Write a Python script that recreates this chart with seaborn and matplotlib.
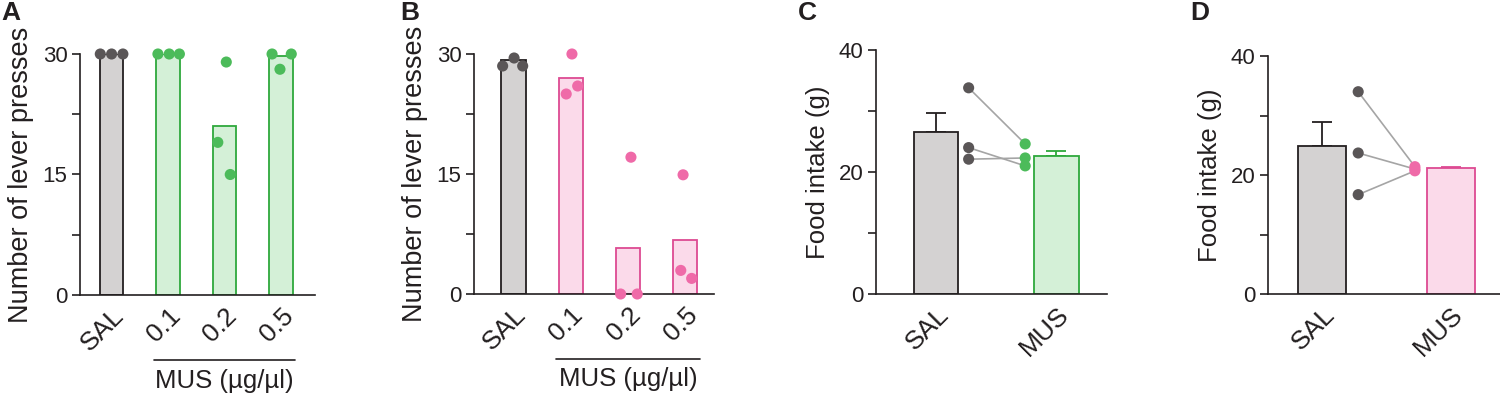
import numpy as np
import pandas as pd
import matplotlib
matplotlib.use("Agg")
import matplotlib.pyplot as plt
import matplotlib.transforms as mtransforms
import seaborn as sns

# lever presses (panels A and B)
press_groups = ["SAL", "0.1", "0.2", "0.5"]
press_a_bars = [30, 30, 21, 29.7]
press_a_points = [[30, 30, 30], [30, 30, 30], [29, 19, 15], [30, 30, 28.1]]
press_b_bars = [29.3, 27.0, 5.7, 6.7]
press_b_points = [[28.5, 29.5, 28.5], [30, 25, 26], [17.1, 0, 0], [14.9, 2.95, 1.95]]

# food intake (panels C and D), paired SAL -> MUS
food_groups = ["SAL", "MUS"]
food_c_bars = [26.6, 22.7]
food_c_err = [3.0, 0.7]
food_c_sal = [33.8, 24.0, 22.1]
food_c_mus = [24.6, 21.0, 22.3]
food_d_bars = [24.9, 21.1]
food_d_err = [4.0, 0.2]
food_d_sal = [34.0, 23.7, 16.7]
food_d_mus = [21.4, 21.0, 20.7]

sns.set_style("ticks")
plt.rcParams["font.family"] = ["Liberation Sans", "DejaVu Sans"]

dark = "#231f20"
plt.rcParams["text.color"] = dark
plt.rcParams["xtick.color"] = dark
plt.rcParams["ytick.color"] = dark
plt.rcParams["axes.labelcolor"] = dark

gray_fill = "#d4d2d2"
gray_dot = "#5a5657"
green = {"fill": "#d4f0d7", "edge": "#2ea83c", "dot": "#4cbb5a"}
pink = {"fill": "#fbdaea", "edge": "#dd4a92", "dot": "#ef6aa8"}

fig = plt.figure(figsize=(15, 3.93), dpi=100)
axA = fig.add_axes([0.0533, 0.2494, 0.1567, 0.6132])
axB = fig.add_axes([0.316, 0.2519, 0.160, 0.6107])
axC = fig.add_axes([0.584, 0.2519, 0.154, 0.6209])
axD = fig.add_axes([0.8453, 0.2519, 0.1547, 0.6056])


def style_axis(ax, yticks, ylabels, ylabel, label_size):
    sns.despine(ax=ax)
    for s in ["left", "bottom"]:
        ax.spines[s].set_color(dark)
        ax.spines[s].set_linewidth(1.2)
    ax.set_yticks(yticks)
    ax.set_yticklabels(ylabels, fontsize=16)
    ax.tick_params(axis="y", length=6, width=1.2, color=dark, pad=3)
    ax.tick_params(axis="x", length=0, pad=6)
    ax.set_xlabel("")
    ax.set_ylabel(ylabel, fontsize=label_size, labelpad=6)
    for lab in ax.get_xticklabels():
        lab.set_rotation(45)
        lab.set_ha("right")
        lab.set_rotation_mode("anchor")
        lab.set_fontsize(19)


def draw_presses(ax, bars, points, offsets, pal, xlim):
    df = pd.DataFrame({"group": press_groups, "value": bars})
    sns.barplot(data=df, x="group", y="value", ax=ax, width=0.42,
                errorbar=None, linewidth=1.3, zorder=2)
    fills = [gray_fill] + [pal["fill"]] * 3
    edges = [dark] + [pal["edge"]] * 3
    for p, f, e in zip(ax.patches, fills, edges):
        p.set_facecolor(f)
        p.set_edgecolor(e)
    rows = []
    for i, (vals, offs) in enumerate(zip(points, offsets)):
        for v, o in zip(vals, offs):
            rows.append({"x": i + o, "value": v, "group": press_groups[i]})
    pts = pd.DataFrame(rows)
    pal_dots = {g: (gray_dot if g == "SAL" else pal["dot"]) for g in press_groups}
    sns.scatterplot(data=pts, x="x", y="value", hue="group", palette=pal_dots,
                    s=64, linewidth=0, legend=False, ax=ax, zorder=3, clip_on=False)
    ax.set_xlim(*xlim)
    ax.set_ylim(0, 30)
    style_axis(ax, [0, 7.5, 15, 22.5, 30], ["0", "", "15", "", "30"],
               "Number of lever presses", 19.5)
    trans = mtransforms.blended_transform_factory(ax.transData, ax.transAxes)
    ax.plot([0.75, 3.25], [-0.27, -0.27], transform=trans, color=dark,
            lw=1.2, clip_on=False)
    ax.text(2.0, -0.355, "MUS (µg/µl)", transform=trans, ha="center",
            va="center", fontsize=18.5)


def draw_food(ax, bars, err, sal, mus, pal, xlim, dot_x):
    df = pd.DataFrame({"group": food_groups, "value": bars})
    sns.barplot(data=df, x="group", y="value", ax=ax, width=0.37,
                errorbar=None, linewidth=1.3, zorder=2)
    for p, f, e in zip(ax.patches, [gray_fill, pal["fill"]], [dark, pal["edge"]]):
        p.set_facecolor(f)
        p.set_edgecolor(e)
    for i, (b, e, c) in enumerate(zip(bars, err, [dark, pal["edge"]])):
        ax.errorbar([i], [b], yerr=[[0], [e]], fmt="none", ecolor=c,
                    elinewidth=1.3, capsize=7, capthick=1.3, zorder=1)
    for s_val, m_val in zip(sal, mus):
        ax.plot(dot_x, [s_val, m_val], color="#a5a5a5", lw=1.2, zorder=2.5)
    pts = pd.DataFrame({"x": [dot_x[0]] * len(sal) + [dot_x[1]] * len(mus),
                        "value": list(sal) + list(mus),
                        "group": ["SAL"] * len(sal) + ["MUS"] * len(mus)})
    sns.scatterplot(data=pts, x="x", y="value", hue="group",
                    palette={"SAL": gray_dot, "MUS": pal["dot"]},
                    s=64, linewidth=0, legend=False, ax=ax, zorder=3)
    ax.set_xlim(*xlim)
    ax.set_ylim(0, 40)
    style_axis(ax, [0, 10, 20, 30, 40], ["0", "", "20", "", "40"],
               "Food intake (g)", 18.5)


draw_presses(axA, press_a_bars, press_a_points,
             [[-0.2, 0.0, 0.2], [-0.18, 0.02, 0.2], [0.03, -0.12, 0.1], [-0.16, 0.18, -0.02]],
             green, (-0.56, 3.6))
draw_presses(axB, press_b_bars, press_b_points,
             [[-0.19, 0.01, 0.16], [0.02, -0.08, 0.12], [0.05, -0.13, 0.16], [-0.04, -0.08, 0.11]],
             pink, (-0.69, 3.5))
draw_food(axC, food_c_bars, food_c_err, food_c_sal, food_c_mus, green,
          (-0.5, 1.42), [0.27, 0.74])
draw_food(axD, food_d_bars, food_d_err, food_d_sal, food_d_mus, pink,
          (-0.42, 1.38), [0.28, 0.72])

for x, letter in zip([0.001, 0.2667, 0.532, 0.7933], "ABCD"):
    fig.text(x, 0.997, letter, fontsize=19, fontweight="bold", va="top", ha="left")

fig.savefig("out.png", dpi=100)
